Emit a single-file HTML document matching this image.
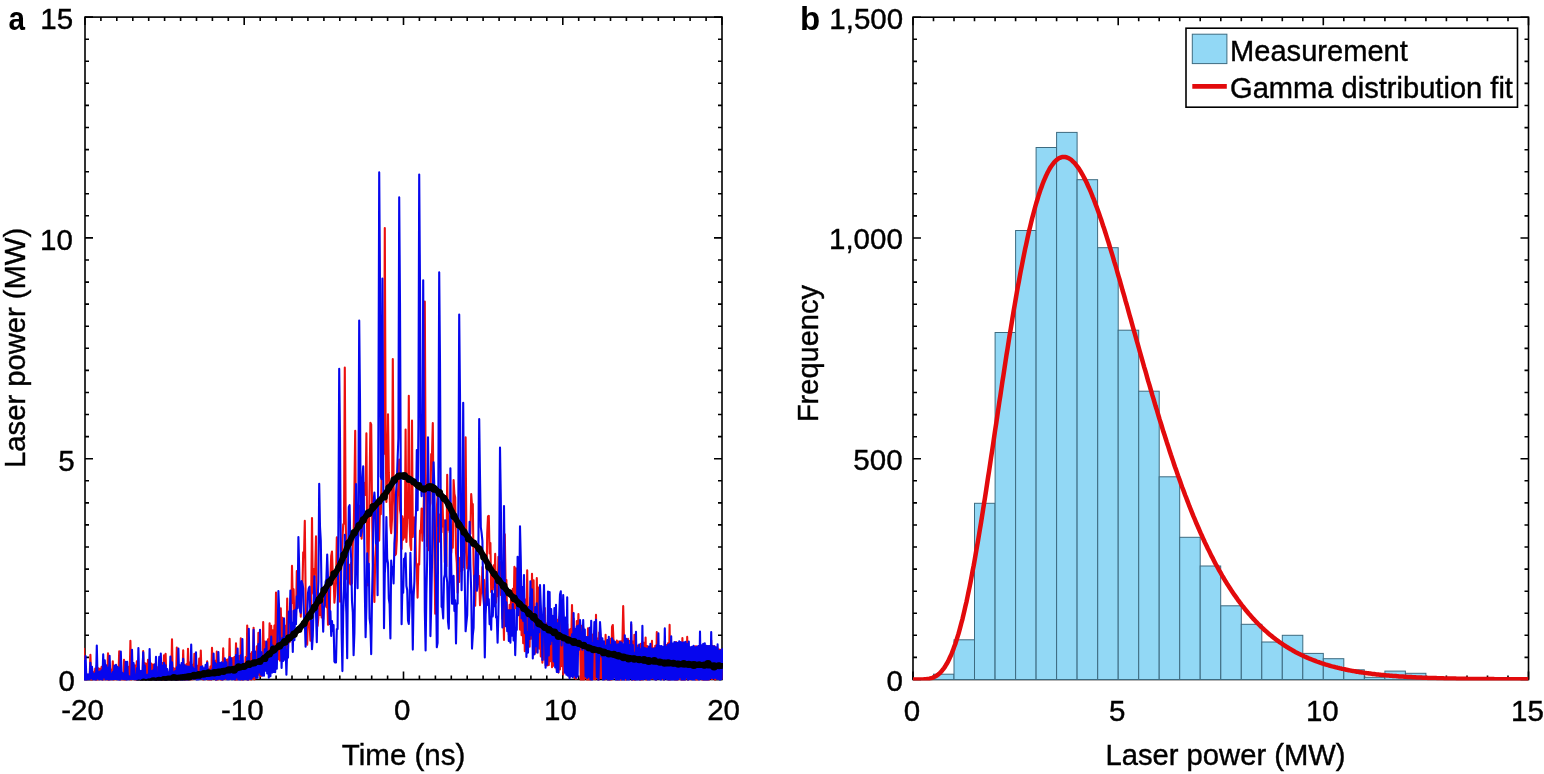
<!DOCTYPE html>
<html><head><meta charset="utf-8"><title>Figure</title>
<style>html,body{margin:0;padding:0;background:#fff;width:1544px;height:774px;overflow:hidden}</style>
</head><body>
<svg width="1544" height="774" viewBox="0 0 1544 774" style="display:block;font-family:'Liberation Sans',Arial,Helvetica,sans-serif">
<rect width="1544" height="774" fill="#fff"/>
<defs><clipPath id="ca"><rect x="84.0" y="17.1" width="639.0" height="663.4"/></clipPath><clipPath id="cb"><rect x="913.0" y="17.2" width="615.5" height="663.3"/></clipPath></defs>
<rect x="85.0" y="17.1" width="637.0" height="662.4" fill="none" stroke="#000" stroke-width="1.6"/>
<path d="M85.0,679.5v-8M85.0,17.1v8M100.9,679.5v-4M100.9,17.1v4M116.8,679.5v-4M116.8,17.1v4M132.8,679.5v-4M132.8,17.1v4M148.7,679.5v-4M148.7,17.1v4M164.6,679.5v-4M164.6,17.1v4M180.6,679.5v-4M180.6,17.1v4M196.5,679.5v-4M196.5,17.1v4M212.4,679.5v-4M212.4,17.1v4M228.3,679.5v-4M228.3,17.1v4M244.2,679.5v-8M244.2,17.1v8M260.2,679.5v-4M260.2,17.1v4M276.1,679.5v-4M276.1,17.1v4M292.0,679.5v-4M292.0,17.1v4M307.9,679.5v-4M307.9,17.1v4M323.9,679.5v-4M323.9,17.1v4M339.8,679.5v-4M339.8,17.1v4M355.7,679.5v-4M355.7,17.1v4M371.7,679.5v-4M371.7,17.1v4M387.6,679.5v-4M387.6,17.1v4M403.5,679.5v-8M403.5,17.1v8M419.4,679.5v-4M419.4,17.1v4M435.4,679.5v-4M435.4,17.1v4M451.3,679.5v-4M451.3,17.1v4M467.2,679.5v-4M467.2,17.1v4M483.1,679.5v-4M483.1,17.1v4M499.1,679.5v-4M499.1,17.1v4M515.0,679.5v-4M515.0,17.1v4M530.9,679.5v-4M530.9,17.1v4M546.8,679.5v-4M546.8,17.1v4M562.8,679.5v-8M562.8,17.1v8M578.7,679.5v-4M578.7,17.1v4M594.6,679.5v-4M594.6,17.1v4M610.5,679.5v-4M610.5,17.1v4M626.4,679.5v-4M626.4,17.1v4M642.4,679.5v-4M642.4,17.1v4M658.3,679.5v-4M658.3,17.1v4M674.2,679.5v-4M674.2,17.1v4M690.1,679.5v-4M690.1,17.1v4M706.1,679.5v-4M706.1,17.1v4M722.0,679.5v-8M722.0,17.1v8M85.0,679.5h8M722.0,679.5h-8M85.0,657.4h4M722.0,657.4h-4M85.0,635.3h4M722.0,635.3h-4M85.0,613.3h4M722.0,613.3h-4M85.0,591.2h4M722.0,591.2h-4M85.0,569.1h4M722.0,569.1h-4M85.0,547.0h4M722.0,547.0h-4M85.0,524.9h4M722.0,524.9h-4M85.0,502.9h4M722.0,502.9h-4M85.0,480.8h4M722.0,480.8h-4M85.0,458.7h8M722.0,458.7h-8M85.0,436.6h4M722.0,436.6h-4M85.0,414.5h4M722.0,414.5h-4M85.0,392.5h4M722.0,392.5h-4M85.0,370.4h4M722.0,370.4h-4M85.0,348.3h4M722.0,348.3h-4M85.0,326.2h4M722.0,326.2h-4M85.0,304.1h4M722.0,304.1h-4M85.0,282.1h4M722.0,282.1h-4M85.0,260.0h4M722.0,260.0h-4M85.0,237.9h8M722.0,237.9h-8M85.0,215.8h4M722.0,215.8h-4M85.0,193.7h4M722.0,193.7h-4M85.0,171.7h4M722.0,171.7h-4M85.0,149.6h4M722.0,149.6h-4M85.0,127.5h4M722.0,127.5h-4M85.0,105.4h4M722.0,105.4h-4M85.0,83.3h4M722.0,83.3h-4M85.0,61.3h4M722.0,61.3h-4M85.0,39.2h4M722.0,39.2h-4M85.0,17.1h8M722.0,17.1h-8" stroke="#000" stroke-width="1.6" fill="none"/>
<g clip-path="url(#ca)" fill="none" stroke-linejoin="round">
<polyline points="84.0,647.9 84.8,679.8 85.6,676.3 86.4,679.6 87.2,677.1 88.0,679.4 88.8,675.9 89.6,678.9 90.4,654.7 91.2,680.1 92.0,667.5 92.8,679.4 93.6,672.2 94.4,679.3 95.2,668.5 96.0,680.2 96.8,665.3 97.6,680.0 98.4,668.3 99.2,679.5 100.0,668.8 100.8,679.5 101.6,666.8 102.4,680.0 103.2,663.9 104.0,679.6 104.8,670.7 105.6,679.2 106.4,670.9 107.2,679.9 108.0,653.4 108.8,680.4 109.6,670.1 110.4,679.7 111.2,669.9 112.0,679.1 112.8,661.4 113.6,680.3 114.4,668.4 115.2,679.3 116.0,673.0 116.8,679.7 117.6,674.0 118.4,678.9 119.2,651.3 120.0,679.9 120.8,675.3 121.6,679.6 122.4,675.7 123.2,679.8 124.0,659.8 124.8,680.9 125.6,667.7 126.4,679.8 127.2,668.0 128.0,678.8 128.8,666.7 129.6,679.5 130.4,640.7 131.2,679.9 132.0,664.3 132.8,678.7 133.6,664.7 134.4,679.8 135.2,665.5 136.0,680.8 136.8,661.2 137.6,679.8 138.4,672.5 139.2,679.2 140.0,675.2 140.8,679.4 141.6,671.3 142.4,679.9 143.2,651.0 144.0,678.4 144.8,663.1 145.6,679.5 146.4,663.8 147.2,677.7 148.0,659.7 148.8,679.5 149.6,663.1 150.4,679.5 151.2,663.6 152.0,679.5 152.8,664.6 153.6,679.0 154.4,664.2 155.2,680.2 156.0,666.4 156.8,679.6 157.6,667.2 158.4,680.1 159.2,665.1 160.0,678.9 160.8,663.8 161.6,679.7 162.4,663.1 163.2,679.9 164.0,655.4 164.8,680.3 165.6,653.7 166.4,679.8 167.2,669.9 168.0,679.3 168.8,673.2 169.6,679.4 170.4,667.5 171.2,679.5 172.0,639.3 172.8,679.3 173.6,668.0 174.4,678.9 175.2,668.9 176.0,680.4 176.8,647.5 177.6,680.9 178.4,667.7 179.2,679.6 180.0,668.5 180.8,679.4 181.6,666.5 182.4,678.6 183.2,650.2 184.0,680.0 184.8,665.5 185.6,680.3 186.4,664.3 187.2,679.8 188.0,648.7 188.8,679.8 189.6,662.5 190.4,679.8 191.2,664.2 192.0,679.7 192.8,664.7 193.6,679.3 194.4,653.7 195.2,678.7 196.0,665.1 196.8,679.1 197.6,665.7 198.4,678.7 199.2,658.5 200.0,678.3 200.8,650.5 201.6,678.8 202.4,667.9 203.2,679.9 204.0,669.2 204.8,678.9 205.6,666.9 206.4,678.1 207.2,661.4 208.0,679.9 208.8,669.4 209.6,680.0 210.4,666.5 211.2,680.1 212.0,647.9 212.8,678.5 213.6,661.5 214.4,678.5 215.2,660.9 216.0,680.2 216.8,651.5 217.6,680.8 218.4,666.5 219.2,678.9 220.0,671.0 220.8,679.9 221.6,665.2 222.4,680.8 223.2,648.2 224.0,678.7 224.8,660.0 225.6,679.2 226.4,659.8 227.2,678.8 228.0,659.2 228.8,678.2 229.6,638.7 230.4,678.9 231.2,658.2 232.0,678.7 232.8,658.0 233.6,679.0 234.4,657.0 235.2,680.4 236.0,643.3 236.8,680.3 237.6,655.7 238.4,678.1 239.2,656.1 240.0,679.0 240.8,638.3 241.6,680.4 242.4,660.5 243.2,679.5 244.0,663.8 244.8,679.4 245.6,657.0 246.4,679.1 247.2,625.6 248.0,681.3 248.8,655.0 249.6,679.3 250.4,653.7 251.2,680.0 252.0,652.1 252.8,678.9 253.6,627.8 254.4,679.8 255.2,655.6 256.0,677.1 256.8,646.4 257.6,674.6 258.4,632.7 259.2,674.9 260.0,653.5 260.8,676.3 261.6,655.8 262.4,672.5 263.2,622.0 264.0,670.1 264.8,641.6 265.6,669.1 266.4,646.7 267.2,668.9 268.0,639.2 268.8,664.0 269.6,623.3 270.4,664.5 271.2,625.8 272.0,664.3 272.8,630.4 273.6,667.2 274.4,625.6 275.2,653.4 276.0,592.6 276.8,654.2 277.6,626.2 278.4,659.3 279.2,642.4 280.0,660.8 280.8,608.3 281.6,643.1 282.4,617.7 283.2,647.9 284.0,624.8 284.8,650.1 285.6,625.9 286.4,649.5 287.2,598.5 288.0,648.6 288.8,627.2 289.6,642.2 290.4,608.3 291.2,622.5 292.0,565.9 292.8,603.0 293.6,589.2 294.4,621.0 295.2,610.2 296.0,616.4 296.8,571.0 297.6,598.2 298.4,587.6 299.2,606.9 300.0,598.8 300.8,616.6 301.6,597.7 302.4,589.5 303.2,552.2 304.0,557.1 304.8,520.7 305.6,592.2 306.4,636.2 307.2,644.7 308.0,613.6 308.8,625.9 309.6,624.1 310.4,640.8 311.2,598.8 312.0,518.0 312.8,590.7 313.6,594.1 314.4,568.8 315.2,571.1 316.0,536.4 316.8,617.3 317.6,625.8 318.4,617.4 319.2,599.8 320.0,614.9 320.8,602.1 321.6,617.5 322.4,604.4 323.2,619.2 324.0,593.3 324.8,601.5 325.6,586.0 326.4,607.3 327.2,589.6 328.0,624.8 328.8,623.6 329.6,621.4 330.4,578.0 331.2,555.9 332.0,551.5 332.8,575.1 333.6,574.6 334.4,602.7 335.2,593.9 336.0,582.5 336.8,537.4 337.6,549.3 338.4,557.2 339.2,594.7 340.0,601.6 340.8,594.1 341.6,557.4 342.4,539.6 343.2,524.5 344.0,523.5 344.8,367.5 345.6,507.9 346.4,573.6 347.2,579.3 348.0,563.0 348.8,582.8 349.6,564.8 350.4,584.4 351.2,562.9 352.0,583.5 352.8,542.8 353.6,536.9 354.4,491.8 355.2,430.8 356.0,542.7 356.8,573.6 357.6,541.2 358.4,535.2 359.2,505.9 360.0,519.1 360.8,518.3 361.6,538.7 362.4,522.6 363.2,518.6 364.0,482.9 364.8,492.1 365.6,495.0 366.4,433.4 367.2,544.1 368.0,585.5 368.8,546.9 369.6,484.9 370.4,422.8 371.2,424.4 372.0,504.2 372.8,559.4 373.6,580.5 374.4,601.9 375.2,558.3 376.0,546.0 376.8,506.3 377.6,520.1 378.4,519.8 379.2,540.6 380.0,505.9 380.8,514.3 381.6,476.7 382.4,472.1 383.2,452.4 384.0,453.8 384.8,228.0 385.6,431.2 386.4,501.9 387.2,478.3 388.0,414.3 388.8,472.4 389.6,488.0 390.4,526.0 391.2,533.1 392.0,519.3 392.8,359.1 393.6,485.8 394.4,506.5 395.2,555.1 396.0,553.9 396.8,539.9 397.6,496.7 398.4,485.7 399.2,459.6 400.0,509.8 400.8,514.7 401.6,549.0 402.4,516.2 403.2,539.8 404.0,518.5 404.8,537.4 405.6,429.5 406.4,542.0 407.2,518.6 408.0,517.6 408.8,395.7 409.6,523.4 410.4,545.3 411.2,550.0 412.0,420.5 412.8,537.0 413.6,517.3 414.4,525.8 415.2,517.2 416.0,562.2 416.8,569.2 417.6,597.6 418.4,563.9 419.2,564.4 420.0,530.5 420.8,532.4 421.6,508.6 422.4,540.6 423.2,529.1 424.0,490.5 424.8,301.5 425.6,471.6 426.4,506.7 427.2,546.3 428.0,538.7 428.8,550.1 429.6,507.9 430.4,503.0 431.2,454.0 432.0,454.3 432.8,423.0 433.6,517.0 434.4,553.5 435.2,613.8 436.0,541.8 436.8,509.0 437.6,495.3 438.4,526.2 439.2,514.6 440.0,541.7 440.8,528.3 441.6,532.3 442.4,497.8 443.2,526.4 444.0,520.4 444.8,562.3 445.6,562.6 446.4,566.3 447.2,474.8 448.0,529.8 448.8,501.5 449.6,532.3 450.4,524.4 451.2,552.9 452.0,541.9 452.8,547.7 453.6,480.1 454.4,493.7 455.2,497.5 456.0,552.6 456.8,562.8 457.6,592.6 458.4,568.2 459.2,582.0 460.0,557.8 460.8,570.9 461.6,540.9 462.4,570.2 463.2,554.0 464.0,567.0 464.8,549.6 465.6,437.3 466.4,537.4 467.2,568.4 468.0,566.6 468.8,565.3 469.6,534.3 470.4,533.7 471.2,494.0 472.0,505.1 472.8,504.0 473.6,564.8 474.4,588.6 475.2,605.8 476.0,574.5 476.8,588.4 477.6,554.9 478.4,584.2 479.2,576.1 480.0,605.2 480.8,594.4 481.6,591.8 482.4,567.1 483.2,592.7 484.0,579.9 484.8,619.0 485.6,599.5 486.4,587.1 487.2,533.5 488.0,516.4 488.8,515.9 489.6,553.4 490.4,543.0 491.2,592.1 492.0,569.9 492.8,589.7 493.6,565.3 494.4,587.0 495.2,553.7 496.0,602.7 496.8,590.2 497.6,596.1 498.4,556.8 499.2,570.2 500.0,562.1 500.8,594.9 501.6,575.5 502.4,618.7 503.2,608.0 504.0,640.0 504.8,534.4 505.6,584.3 506.4,580.1 507.2,625.6 508.0,610.3 508.8,634.4 509.6,604.7 510.4,621.3 511.2,593.7 512.0,619.2 512.8,588.7 513.6,613.7 514.4,566.9 515.2,608.5 516.0,568.4 516.8,602.0 517.6,569.7 518.4,614.3 519.2,573.9 520.0,629.6 520.8,594.5 521.6,635.2 522.4,602.8 523.2,643.2 524.0,605.7 524.8,651.3 525.6,599.6 526.4,631.1 527.2,570.2 528.0,635.2 528.8,614.9 529.6,646.7 530.4,597.8 531.2,638.8 532.0,573.7 532.8,629.3 533.6,580.4 534.4,654.2 535.2,626.7 536.0,652.4 536.8,578.1 537.6,637.8 538.4,587.5 539.2,648.6 540.0,604.7 540.8,656.5 541.6,618.0 542.4,662.7 543.2,615.0 544.0,659.5 544.8,608.0 545.6,665.3 546.4,623.6 547.2,665.4 548.0,615.1 548.8,665.1 549.6,616.2 550.4,661.3 551.2,614.2 552.0,667.3 552.8,617.9 553.6,665.8 554.4,616.1 555.2,662.9 556.0,611.8 556.8,670.0 557.6,619.7 558.4,672.6 559.2,617.1 560.0,669.5 560.8,606.9 561.6,666.1 562.4,616.2 563.2,674.4 564.0,618.9 564.8,671.5 565.6,620.4 566.4,670.7 567.2,624.0 568.0,674.3 568.8,629.8 569.6,677.3 570.4,629.1 571.2,642.2 572.0,605.0 572.8,638.5 573.6,618.5 574.4,677.9 575.2,632.3 576.0,678.7 576.8,621.1 577.6,646.8 578.4,614.0 579.2,643.5 580.0,635.4 580.8,681.3 581.6,625.9 582.4,683.1 583.2,627.0 584.0,680.0 584.8,641.8 585.6,678.1 586.4,642.9 587.2,681.9 588.0,628.2 588.8,681.4 589.6,638.1 590.4,681.2 591.2,636.4 592.0,678.6 592.8,634.6 593.6,679.3 594.4,630.8 595.2,679.6 596.0,614.9 596.8,678.0 597.6,638.6 598.4,680.3 599.2,632.5 600.0,678.1 600.8,640.6 601.6,678.3 602.4,647.4 603.2,678.5 604.0,645.8 604.8,679.8 605.6,634.7 606.4,678.6 607.2,642.6 608.0,679.8 608.8,641.2 609.6,681.1 610.4,638.7 611.2,681.9 612.0,627.0 612.8,625.0 613.6,643.1 614.4,677.4 615.2,644.1 616.0,678.0 616.8,640.5 617.6,680.3 618.4,641.5 619.2,678.7 620.0,641.3 620.8,680.4 621.6,641.0 622.4,642.8 623.2,606.0 624.0,639.1 624.8,641.9 625.6,680.8 626.4,640.2 627.2,678.2 628.0,638.9 628.8,679.0 629.6,641.1 630.4,677.3 631.2,624.6 632.0,680.8 632.8,641.6 633.6,681.8 634.4,634.7 635.2,680.2 636.0,644.7 636.8,677.7 637.6,645.6 638.4,678.6 639.2,645.6 640.0,679.9 640.8,643.9 641.6,680.9 642.4,642.0 643.2,679.3 644.0,642.9 644.8,678.0 645.6,637.5 646.4,680.1 647.2,646.0 648.0,678.9 648.8,648.4 649.6,679.3 650.4,647.7 651.2,678.7 652.0,640.9 652.8,678.4 653.6,648.2 654.4,679.0 655.2,645.9 656.0,680.8 656.8,632.0 657.6,677.4 658.4,648.0 659.2,677.8 660.0,649.0 660.8,678.0 661.6,647.6 662.4,679.1 663.2,647.6 664.0,679.7 664.8,641.2 665.6,677.3 666.4,645.0 667.2,679.1 668.0,643.3 668.8,681.4 669.6,624.9 670.4,679.7 671.2,646.0 672.0,678.2 672.8,646.0 673.6,679.0 674.4,647.2 675.2,680.2 676.0,642.1 676.8,681.5 677.6,646.4 678.4,679.4 679.2,646.7 680.0,679.0 680.8,649.3 681.6,680.9 682.4,638.1 683.2,680.2 684.0,651.2 684.8,680.0 685.6,651.0 686.4,678.4 687.2,636.9 688.0,681.1 688.8,648.7 689.6,678.0 690.4,647.8 691.2,679.8 692.0,647.6 692.8,678.7 693.6,647.3 694.4,677.8 695.2,646.4 696.0,680.7 696.8,646.4 697.6,680.0 698.4,647.4 699.2,677.6 700.0,647.8 700.8,678.3 701.6,647.1 702.4,681.0 703.2,648.9 704.0,680.8 704.8,647.9 705.6,681.1 706.4,646.5 707.2,680.0 708.0,646.1 708.8,681.3 709.6,646.5 710.4,678.3 711.2,640.2 712.0,679.2 712.8,646.1 713.6,678.3 714.4,646.3 715.2,680.0 716.0,647.3 716.8,678.6 717.6,648.3 718.4,678.9 719.2,649.5 720.0,678.7 720.8,649.9 721.6,678.7 722.4,649.4" stroke="#ec1010" stroke-width="2.1"/>
<polyline points="84.0,660.0 84.8,680.6 85.6,656.1 86.4,680.1 87.2,674.3 88.0,679.4 88.8,674.4 89.6,679.5 90.4,662.9 91.2,678.3 92.0,666.9 92.8,679.4 93.6,673.7 94.4,679.8 95.2,673.2 96.0,679.9 96.8,645.5 97.6,678.5 98.4,672.1 99.2,679.6 100.0,671.5 100.8,679.2 101.6,670.3 102.4,679.9 103.2,654.4 104.0,677.4 104.8,660.3 105.6,679.7 106.4,665.2 107.2,678.9 108.0,667.8 108.8,680.2 109.6,655.8 110.4,679.4 111.2,673.8 112.0,679.7 112.8,672.0 113.6,679.1 114.4,665.5 115.2,679.0 116.0,664.9 116.8,679.2 117.6,666.7 118.4,680.1 119.2,668.4 120.0,680.4 120.8,651.5 121.6,678.8 122.4,672.8 123.2,679.2 124.0,673.6 124.8,679.3 125.6,661.9 126.4,679.9 127.2,661.7 128.0,679.7 128.8,676.0 129.6,679.4 130.4,676.6 131.2,679.0 132.0,649.9 132.8,679.0 133.6,663.1 134.4,679.4 135.2,674.8 136.0,679.5 136.8,668.3 137.6,681.0 138.4,648.0 139.2,679.3 140.0,670.8 140.8,679.2 141.6,671.1 142.4,679.7 143.2,652.3 144.0,677.9 144.8,665.6 145.6,679.3 146.4,675.0 147.2,679.3 148.0,674.6 148.8,679.9 149.6,649.0 150.4,678.9 151.2,671.1 152.0,679.2 152.8,670.5 153.6,679.4 154.4,664.8 155.2,680.1 156.0,656.7 156.8,679.6 157.6,674.0 158.4,679.6 159.2,656.7 160.0,680.9 160.8,653.5 161.6,679.4 162.4,665.7 163.2,678.8 164.0,662.9 164.8,680.1 165.6,665.2 166.4,680.7 167.2,669.0 168.0,679.1 168.8,672.4 169.6,679.0 170.4,656.5 171.2,679.8 172.0,662.2 172.8,679.1 173.6,672.3 174.4,679.8 175.2,671.0 176.0,679.9 176.8,667.2 177.6,680.9 178.4,648.5 179.2,678.8 180.0,665.2 180.8,680.1 181.6,663.1 182.4,680.0 183.2,658.8 184.0,679.9 184.8,665.2 185.6,679.6 186.4,666.2 187.2,680.2 188.0,666.5 188.8,679.5 189.6,666.8 190.4,678.6 191.2,644.6 192.0,678.8 192.8,667.4 193.6,678.9 194.4,669.1 195.2,678.5 196.0,652.2 196.8,680.2 197.6,671.9 198.4,679.8 199.2,673.4 200.0,679.1 200.8,666.9 201.6,678.3 202.4,666.2 203.2,679.1 204.0,668.3 204.8,679.6 205.6,664.7 206.4,678.7 207.2,662.7 208.0,679.3 208.8,670.9 209.6,679.3 210.4,671.6 211.2,679.5 212.0,669.6 212.8,678.9 213.6,653.6 214.4,678.1 215.2,662.7 216.0,680.2 216.8,664.2 217.6,679.2 218.4,652.0 219.2,678.6 220.0,663.0 220.8,679.0 221.6,662.2 222.4,680.2 223.2,663.2 224.0,678.9 224.8,658.2 225.6,678.2 226.4,662.4 227.2,679.7 228.0,669.9 228.8,679.6 229.6,657.1 230.4,678.7 231.2,658.4 232.0,679.6 232.8,670.5 233.6,679.3 234.4,670.5 235.2,679.6 236.0,655.1 236.8,677.5 237.6,648.5 238.4,679.6 239.2,661.5 240.0,680.7 240.8,655.2 241.6,679.3 242.4,639.1 243.2,681.0 244.0,669.0 244.8,678.9 245.6,665.5 246.4,679.4 247.2,657.9 248.0,681.3 248.8,628.8 249.6,678.6 250.4,666.2 251.2,679.0 252.0,663.4 252.8,677.4 253.6,629.8 254.4,675.9 255.2,651.5 256.0,678.0 256.8,661.5 257.6,677.7 258.4,644.1 259.2,672.5 260.0,629.7 260.8,674.6 261.6,652.3 262.4,675.6 263.2,662.1 264.0,675.7 264.8,649.3 265.6,670.8 266.4,641.6 267.2,673.5 268.0,656.8 268.8,677.8 269.6,659.0 270.4,676.2 271.2,636.5 272.0,672.6 272.8,645.5 273.6,671.9 274.4,649.4 275.2,672.3 276.0,649.9 276.8,668.6 277.6,635.2 278.4,591.0 279.2,610.5 280.0,644.1 280.8,639.7 281.6,668.0 282.4,638.1 283.2,661.0 284.0,618.4 284.8,659.6 285.6,646.1 286.4,674.8 287.2,649.8 288.0,657.6 288.8,611.6 289.6,622.4 290.4,590.6 291.2,633.9 292.0,622.8 292.8,652.0 293.6,610.9 294.4,640.1 295.2,609.7 296.0,624.2 296.8,596.4 297.6,608.2 298.4,537.0 299.2,568.4 300.0,610.8 300.8,612.8 301.6,581.1 302.4,583.7 303.2,588.1 304.0,617.8 304.8,621.3 305.6,646.8 306.4,615.1 307.2,617.5 308.0,592.9 308.8,588.3 309.6,586.7 310.4,619.9 311.2,620.4 312.0,649.2 312.8,635.9 313.6,605.7 314.4,576.2 315.2,605.1 316.0,612.2 316.8,642.2 317.6,601.5 318.4,581.6 319.2,483.8 320.0,526.9 320.8,540.8 321.6,595.9 322.4,608.5 323.2,631.8 324.0,606.5 324.8,605.9 325.6,582.0 326.4,579.1 327.2,554.5 328.0,578.7 328.8,589.4 329.6,624.0 330.4,611.3 331.2,635.9 332.0,621.1 332.8,631.0 333.6,625.0 334.4,661.5 335.2,662.5 336.0,662.5 336.8,629.0 337.6,628.9 338.4,524.1 339.2,368.8 340.0,437.2 340.8,555.2 341.6,632.7 342.4,671.1 343.2,612.7 344.0,588.6 344.8,534.8 345.6,592.0 346.4,614.5 347.2,658.3 348.0,569.3 348.8,507.0 349.6,505.2 350.4,545.3 351.2,558.9 352.0,601.2 352.8,612.5 353.6,655.3 354.4,633.0 355.2,575.3 356.0,484.1 356.8,548.9 357.6,588.2 358.4,500.1 359.2,320.6 360.0,399.6 360.8,535.9 361.6,531.1 362.4,479.5 363.2,466.4 364.0,512.5 364.8,590.6 365.6,637.3 366.4,606.7 367.2,553.2 368.0,581.9 368.8,563.7 369.6,618.5 370.4,625.0 371.2,654.1 372.0,599.1 372.8,563.2 373.6,501.7 374.4,492.5 375.2,504.2 376.0,543.6 376.8,541.8 377.6,595.2 378.4,425.9 379.2,172.4 380.0,284.0 380.8,476.7 381.6,479.1 382.4,278.6 383.2,459.0 384.0,628.3 384.8,573.4 385.6,561.1 386.4,517.1 387.2,558.7 388.0,563.3 388.8,598.5 389.6,604.0 390.4,638.4 391.2,560.6 392.0,572.9 392.8,567.4 393.6,583.5 394.4,543.4 395.2,532.3 396.0,492.8 396.8,482.2 397.6,459.2 398.4,438.3 399.2,197.2 400.0,303.3 400.8,486.6 401.6,624.2 402.4,586.9 403.2,592.8 404.0,558.8 404.8,561.0 405.6,553.2 406.4,586.0 407.2,590.0 408.0,620.5 408.8,623.9 409.6,605.3 410.4,552.7 411.2,584.0 412.0,594.3 412.8,649.6 413.6,596.4 414.4,581.4 415.2,529.3 416.0,512.1 416.8,450.0 417.6,510.3 418.4,427.0 419.2,174.5 420.0,285.6 420.8,477.5 421.6,496.3 422.4,479.9 423.2,280.3 424.0,459.9 424.8,610.8 425.6,650.4 426.4,592.2 427.2,558.4 428.0,437.3 428.8,499.3 429.6,483.7 430.4,636.1 431.2,606.9 432.0,564.1 432.8,488.5 433.6,462.3 434.4,489.0 435.2,554.6 436.0,582.0 436.8,647.3 437.6,642.8 438.4,475.9 439.2,272.3 440.0,361.9 440.8,516.6 441.6,606.8 442.4,607.9 443.2,618.4 444.0,578.3 444.8,574.8 445.6,520.3 446.4,575.8 447.2,582.1 448.0,621.6 448.8,628.6 449.6,573.9 450.4,468.3 451.2,563.3 452.0,603.6 452.8,603.7 453.6,575.9 454.4,611.0 455.2,600.3 456.0,643.4 456.8,603.4 457.6,603.7 458.4,497.0 459.2,314.5 460.0,394.8 460.8,533.5 461.6,590.3 462.4,541.1 463.2,402.7 464.0,527.3 464.8,582.4 465.6,631.3 466.4,623.0 467.2,615.2 468.0,572.2 468.8,565.5 469.6,521.8 470.4,566.7 471.2,590.5 472.0,648.6 472.8,635.2 473.6,628.0 474.4,575.6 475.2,577.4 476.0,549.4 476.8,590.8 477.6,586.2 478.4,549.2 479.2,419.0 480.0,476.3 480.8,527.1 481.6,532.8 482.4,540.8 483.2,594.9 484.0,604.6 484.8,657.4 485.6,614.2 486.4,599.0 487.2,567.0 488.0,605.1 488.8,599.2 489.6,624.1 490.4,617.8 491.2,629.8 492.0,590.9 492.8,616.4 493.6,594.3 494.4,606.2 495.2,580.5 496.0,617.4 496.8,616.6 497.6,642.8 498.4,613.7 499.2,563.5 500.0,447.6 500.8,498.6 501.6,586.7 502.4,627.5 503.2,592.8 504.0,506.0 504.8,584.1 505.6,626.3 506.4,602.2 507.2,631.3 508.0,610.2 508.8,641.0 509.6,610.4 510.4,642.6 511.2,610.4 512.0,635.6 512.8,604.1 513.6,640.5 514.4,610.1 515.2,655.1 516.0,628.1 516.8,629.9 517.6,556.8 518.4,615.2 519.2,600.2 520.0,526.2 520.8,559.9 521.6,618.2 522.4,587.1 523.2,620.9 524.0,575.0 524.8,633.2 525.6,609.4 526.4,656.9 527.2,632.0 528.0,652.6 528.8,607.1 529.6,639.0 530.4,581.2 531.2,635.2 532.0,589.2 532.8,658.4 533.6,630.8 534.4,654.3 535.2,607.0 536.0,646.2 536.8,603.2 537.6,652.6 538.4,619.4 539.2,632.2 540.0,585.0 540.8,605.8 541.6,624.8 542.4,659.9 543.2,618.0 544.0,585.0 544.8,627.5 545.6,667.8 546.4,626.0 547.2,664.5 548.0,591.6 548.8,655.5 549.6,592.1 550.4,644.2 551.2,609.0 552.0,640.7 552.8,616.1 553.6,661.4 554.4,608.1 555.2,667.5 556.0,604.8 556.8,671.9 557.6,623.2 558.4,672.3 559.2,616.4 560.0,594.5 560.8,591.2 561.6,645.5 562.4,624.5 563.2,595.0 564.0,622.8 564.8,672.7 565.6,617.5 566.4,674.8 567.2,597.2 568.0,675.8 568.8,637.4 569.6,678.2 570.4,637.5 571.2,676.3 572.0,634.2 572.8,677.3 573.6,613.1 574.4,675.6 575.2,628.9 576.0,677.6 576.8,626.3 577.6,676.5 578.4,625.5 579.2,649.8 580.0,620.0 580.8,633.1 581.6,638.4 582.4,649.8 583.2,620.0 584.0,646.8 584.8,629.6 585.6,676.5 586.4,637.1 587.2,678.0 588.0,637.1 588.8,676.8 589.6,627.8 590.4,679.5 591.2,620.8 592.0,682.0 592.8,643.1 593.6,650.8 594.4,622.0 595.2,647.9 596.0,619.8 596.8,676.9 597.6,641.1 598.4,680.4 599.2,649.5 600.0,622.0 600.8,634.6 601.6,656.5 602.4,638.4 603.2,681.3 604.0,641.3 604.8,679.3 605.6,645.9 606.4,678.3 607.2,640.1 608.0,681.0 608.8,636.8 609.6,680.5 610.4,644.7 611.2,679.0 612.0,638.3 612.8,679.3 613.6,640.5 614.4,677.4 615.2,642.1 616.0,681.5 616.8,644.6 617.6,679.8 618.4,644.2 619.2,680.1 620.0,642.0 620.8,678.2 621.6,642.5 622.4,680.8 623.2,644.2 624.0,680.4 624.8,635.3 625.6,677.9 626.4,638.7 627.2,680.9 628.0,640.6 628.8,680.9 629.6,645.1 630.4,678.0 631.2,622.2 632.0,681.5 632.8,645.1 633.6,679.1 634.4,652.9 635.2,681.0 636.0,631.7 636.8,681.8 637.6,647.7 638.4,679.7 639.2,644.6 640.0,680.8 640.8,649.4 641.6,679.2 642.4,625.8 643.2,679.7 644.0,647.8 644.8,678.6 645.6,648.3 646.4,678.8 647.2,648.7 648.0,680.1 648.8,646.6 649.6,680.4 650.4,643.7 651.2,678.3 652.0,648.6 652.8,677.6 653.6,648.9 654.4,679.4 655.2,648.1 656.0,681.4 656.8,645.3 657.6,678.6 658.4,633.4 659.2,678.9 660.0,646.0 660.8,680.4 661.6,646.1 662.4,678.0 663.2,647.1 664.0,681.2 664.8,628.4 665.6,678.5 666.4,646.6 667.2,679.7 668.0,644.9 668.8,680.3 669.6,644.1 670.4,681.3 671.2,636.2 672.0,680.2 672.8,643.5 673.6,680.1 674.4,642.1 675.2,681.5 676.0,642.5 676.8,681.7 677.6,642.8 678.4,679.2 679.2,641.4 680.0,677.3 680.8,642.1 681.6,681.5 682.4,642.7 683.2,681.0 684.0,642.2 684.8,681.6 685.6,641.8 686.4,677.6 687.2,644.0 688.0,681.0 688.8,641.6 689.6,679.3 690.4,647.2 691.2,679.2 692.0,646.8 692.8,680.4 693.6,645.8 694.4,681.4 695.2,647.2 696.0,677.9 696.8,647.1 697.6,678.8 698.4,646.1 699.2,681.3 700.0,631.5 700.8,678.8 701.6,645.3 702.4,679.4 703.2,643.9 704.0,680.4 704.8,643.3 705.6,682.2 706.4,645.8 707.2,681.0 708.0,646.0 708.8,679.7 709.6,646.0 710.4,678.2 711.2,632.1 712.0,677.8 712.8,646.4 713.6,678.4 714.4,646.2 715.2,677.8 716.0,647.5 716.8,678.7 717.6,644.4 718.4,678.9 719.2,650.8 720.0,680.3 720.8,650.3 721.6,678.9 722.4,648.2" stroke="#0606ee" stroke-width="2.1"/>
<polyline points="84.0,687.0 85.0,687.0 86.0,686.9 87.0,686.9 88.0,686.9 89.0,686.8 90.0,686.8 91.0,686.8 92.0,686.7 93.0,686.7 94.0,686.7 95.0,686.6 96.0,686.6 97.0,686.6 98.0,686.5 99.0,686.5 100.0,686.5 101.0,686.4 102.0,686.4 103.0,686.4 104.0,686.3 105.0,686.3 106.0,686.3 107.0,686.2 108.0,686.2 109.0,686.2 110.0,686.2 111.0,686.1 112.0,686.1 113.0,686.1 114.0,686.0 115.0,686.0 116.0,686.0 117.0,685.9 118.0,685.9 119.0,685.9 120.0,685.8 121.0,685.8 122.0,685.8 123.0,685.7 124.0,685.7 125.0,685.7 126.0,685.6 127.0,685.6 128.0,685.6 129.0,685.5 130.0,685.4 131.0,685.3 132.0,685.1 133.0,684.9 134.0,684.7 135.0,684.5 136.0,684.3 137.0,684.1 138.0,683.9 139.0,683.7 140.0,683.5 141.0,683.3 142.0,683.1 143.0,682.9 144.0,682.7 145.0,682.5 146.0,682.3 147.0,682.1 148.0,681.9 149.0,681.7 150.0,681.5 151.0,681.4 152.0,681.2 153.0,681.1 154.0,681.0 155.0,680.8 156.0,680.7 157.0,680.5 158.0,680.4 159.0,680.3 160.0,680.1 161.0,680.0 162.0,679.9 163.0,679.7 164.0,679.6 165.0,679.5 166.0,679.3 167.0,679.2 168.0,679.0 169.0,678.9 170.0,678.8 171.0,678.6 172.0,678.5 173.0,678.4 174.0,678.2 175.0,678.1 176.0,678.0 177.0,677.8 178.0,677.7 179.0,677.6 180.0,677.4 181.0,677.3 182.0,677.2 183.0,677.1 184.0,676.9 185.0,676.8 186.0,676.7 187.0,676.5 188.0,676.4 189.0,676.3 190.0,676.1 191.0,676.0 192.0,675.9 193.0,675.8 194.0,675.6 195.0,675.5 196.0,675.4 197.0,675.2 198.0,675.1 199.0,675.0 200.0,674.9 201.0,674.7 202.0,674.6 203.0,674.5 204.0,674.3 205.0,674.2 206.0,674.1 207.0,673.9 208.0,673.8 209.0,673.7 210.0,673.6 211.0,673.4 212.0,673.3 213.0,673.1 214.0,672.9 215.0,672.7 216.0,672.5 217.0,672.3 218.0,672.1 219.0,671.9 220.0,671.7 221.0,671.5 222.0,671.3 223.0,671.1 224.0,670.9 225.0,670.7 226.0,670.5 227.0,670.3 228.0,670.1 229.0,669.9 230.0,669.7 231.0,669.5 232.0,669.3 233.0,669.1 234.0,668.9 235.0,668.7 236.0,668.5 237.0,668.3 238.0,668.1 239.0,667.9 240.0,667.6 241.0,667.3 242.0,667.0 243.0,666.6 244.0,666.3 245.0,666.0 246.0,665.6 247.0,665.3 248.0,665.0 249.0,664.6 250.0,664.3 251.0,664.0 252.0,663.7 253.0,663.3 254.0,663.0 255.0,662.7 256.0,662.3 257.0,662.0 258.0,661.7 259.0,661.3 260.0,660.9 261.0,660.3 262.0,659.7 263.0,659.0 264.0,658.2 265.0,657.4 266.0,656.5 267.0,655.7 268.0,654.9 269.0,654.1 270.0,653.3 271.0,652.5 272.0,651.7 273.0,650.9 274.0,650.0 275.0,649.3 276.0,648.5 277.0,647.7 278.0,647.0 279.0,646.2 280.0,645.5 281.0,644.7 282.0,644.0 283.0,643.2 284.0,642.5 285.0,641.7 286.0,641.0 287.0,640.2 288.0,639.5 289.0,638.7 290.0,637.8 291.0,636.9 292.0,636.0 293.0,635.0 294.0,634.0 295.0,633.0 296.0,632.0 297.0,630.9 298.0,629.9 299.0,628.9 300.0,627.9 301.0,626.9 302.0,625.7 303.0,624.5 304.0,623.1 305.0,621.7 306.0,620.2 307.0,618.7 308.0,617.2 309.0,615.7 310.0,614.2 311.0,612.7 312.0,611.2 313.0,609.7 314.0,608.1 315.0,606.4 316.0,604.7 317.0,603.0 318.0,601.3 319.0,599.6 320.0,597.8 321.0,596.1 322.0,594.4 323.0,592.7 324.0,591.0 325.0,589.3 326.0,587.6 327.0,586.0 328.0,584.4 329.0,582.8 330.0,581.2 331.0,579.7 332.0,578.1 333.0,576.5 334.0,575.0 335.0,573.4 336.0,571.8 337.0,570.3 338.0,568.5 339.0,566.6 340.0,564.5 341.0,562.3 342.0,559.9 343.0,557.5 344.0,555.1 345.0,552.7 346.0,550.3 347.0,547.9 348.0,545.5 349.0,543.1 350.0,540.8 351.0,538.7 352.0,536.7 353.0,535.0 354.0,533.4 355.0,531.9 356.0,530.5 357.0,529.0 358.0,527.6 359.0,526.1 360.0,524.7 361.0,523.2 362.0,521.7 363.0,520.3 364.0,518.8 365.0,517.5 366.0,516.2 367.0,514.9 368.0,513.7 369.0,512.6 370.0,511.5 371.0,510.4 372.0,509.3 373.0,508.2 374.0,507.1 375.0,505.9 376.0,504.8 377.0,503.7 378.0,502.5 379.0,501.4 380.0,500.3 381.0,499.1 382.0,498.0 383.0,496.8 384.0,495.6 385.0,494.3 386.0,492.9 387.0,491.4 388.0,489.8 389.0,488.2 390.0,486.7 391.0,485.1 392.0,483.5 393.0,482.0 394.0,480.6 395.0,479.3 396.0,478.2 397.0,477.2 398.0,476.3 399.0,475.8 400.0,475.5 401.0,475.5 402.0,475.7 403.0,476.1 404.0,476.4 405.0,476.8 406.0,477.1 407.0,477.5 408.0,477.9 409.0,478.4 410.0,479.0 411.0,479.7 412.0,480.5 413.0,481.5 414.0,482.4 415.0,483.3 416.0,484.2 417.0,485.1 418.0,486.1 419.0,486.9 420.0,487.5 421.0,488.0 422.0,488.4 423.0,488.6 424.0,488.6 425.0,488.5 426.0,488.2 427.0,487.8 428.0,487.3 429.0,486.8 430.0,486.4 431.0,486.3 432.0,486.5 433.0,487.0 434.0,487.8 435.0,488.7 436.0,489.7 437.0,490.6 438.0,491.6 439.0,492.7 440.0,493.8 441.0,494.9 442.0,496.0 443.0,497.2 444.0,498.3 445.0,499.5 446.0,500.8 447.0,502.2 448.0,503.8 449.0,505.6 450.0,507.6 451.0,509.6 452.0,511.5 453.0,513.5 454.0,515.5 455.0,517.4 456.0,519.3 457.0,521.0 458.0,522.6 459.0,524.2 460.0,525.7 461.0,527.2 462.0,528.7 463.0,530.2 464.0,531.7 465.0,533.2 466.0,534.6 467.0,535.9 468.0,537.2 469.0,538.3 470.0,539.4 471.0,540.5 472.0,541.5 473.0,542.5 474.0,543.5 475.0,544.5 476.0,545.5 477.0,546.5 478.0,547.6 479.0,548.8 480.0,550.2 481.0,551.7 482.0,553.4 483.0,555.2 484.0,557.0 485.0,558.8 486.0,560.6 487.0,562.4 488.0,564.2 489.0,566.0 490.0,567.8 491.0,569.5 492.0,571.0 493.0,572.5 494.0,573.9 495.0,575.2 496.0,576.5 497.0,577.8 498.0,579.0 499.0,580.3 500.0,581.6 501.0,582.9 502.0,584.2 503.0,585.5 504.0,586.7 505.0,588.0 506.0,589.3 507.0,590.6 508.0,591.8 509.0,593.0 510.0,594.1 511.0,595.2 512.0,596.2 513.0,597.2 514.0,598.2 515.0,599.2 516.0,600.2 517.0,601.2 518.0,602.2 519.0,603.2 520.0,604.2 521.0,605.2 522.0,606.2 523.0,607.2 524.0,608.2 525.0,609.2 526.0,610.2 527.0,611.2 528.0,612.2 529.0,613.2 530.0,614.2 531.0,615.2 532.0,616.2 533.0,617.2 534.0,618.2 535.0,619.2 536.0,620.2 537.0,621.2 538.0,622.2 539.0,623.2 540.0,624.1 541.0,624.9 542.0,625.7 543.0,626.3 544.0,626.9 545.0,627.4 546.0,628.0 547.0,628.5 548.0,629.1 549.0,629.7 550.0,630.2 551.0,630.8 552.0,631.3 553.0,631.9 554.0,632.4 555.0,633.0 556.0,633.5 557.0,634.1 558.0,634.7 559.0,635.2 560.0,635.8 561.0,636.3 562.0,636.9 563.0,637.4 564.0,637.8 565.0,638.3 566.0,638.7 567.0,639.1 568.0,639.5 569.0,639.9 570.0,640.3 571.0,640.7 572.0,641.1 573.0,641.5 574.0,641.9 575.0,642.3 576.0,642.7 577.0,643.1 578.0,643.5 579.0,643.9 580.0,644.3 581.0,644.7 582.0,645.1 583.0,645.5 584.0,645.9 585.0,646.3 586.0,646.7 587.0,647.0 588.0,647.4 589.0,647.7 590.0,648.0 591.0,648.3 592.0,648.6 593.0,648.9 594.0,649.2 595.0,649.5 596.0,649.7 597.0,650.0 598.0,650.3 599.0,650.6 600.0,650.9 601.0,651.2 602.0,651.5 603.0,651.8 604.0,652.1 605.0,652.4 606.0,652.7 607.0,653.0 608.0,653.2 609.0,653.5 610.0,653.8 611.0,654.1 612.0,654.4 613.0,654.7 614.0,655.0 615.0,655.3 616.0,655.6 617.0,655.8 618.0,656.0 619.0,656.2 620.0,656.4 621.0,656.5 622.0,656.7 623.0,656.9 624.0,657.0 625.0,657.2 626.0,657.4 627.0,657.5 628.0,657.7 629.0,657.9 630.0,658.0 631.0,658.2 632.0,658.4 633.0,658.5 634.0,658.7 635.0,658.9 636.0,659.0 637.0,659.2 638.0,659.4 639.0,659.5 640.0,659.7 641.0,659.9 642.0,660.0 643.0,660.2 644.0,660.4 645.0,660.5 646.0,660.7 647.0,660.8 648.0,660.9 649.0,661.0 650.0,661.1 651.0,661.2 652.0,661.3 653.0,661.4 654.0,661.5 655.0,661.6 656.0,661.7 657.0,661.8 658.0,661.9 659.0,662.0 660.0,662.1 661.0,662.2 662.0,662.3 663.0,662.4 664.0,662.5 665.0,662.6 666.0,662.7 667.0,662.8 668.0,662.9 669.0,663.0 670.0,663.1 671.0,663.2 672.0,663.3 673.0,663.4 674.0,663.5 675.0,663.6 676.0,663.7 677.0,663.8 678.0,663.9 679.0,664.0 680.0,664.1 681.0,664.2 682.0,664.2 683.0,664.3 684.0,664.3 685.0,664.4 686.0,664.4 687.0,664.5 688.0,664.5 689.0,664.5 690.0,664.6 691.0,664.6 692.0,664.7 693.0,664.7 694.0,664.8 695.0,664.8 696.0,664.8 697.0,664.9 698.0,664.9 699.0,665.0 700.0,665.0 701.0,665.1 702.0,665.1 703.0,665.1 704.0,665.2 705.0,665.2 706.0,665.3 707.0,665.3 708.0,665.4 709.0,665.4 710.0,665.4 711.0,665.5 712.0,665.5 713.0,665.6 714.0,665.6 715.0,665.7 716.0,665.7 717.0,665.7 718.0,665.8 719.0,665.8 720.0,665.9 721.0,665.9 722.0,665.9 723.0,666.0" stroke="#000" stroke-width="6.0"/>
<g fill="#000" stroke="none"><circle cx="83.7" cy="686.2" r="3.7"/><circle cx="89.2" cy="687.5" r="3.6"/><circle cx="93.8" cy="686.2" r="3.4"/><circle cx="99.7" cy="686.7" r="3.5"/><circle cx="103.6" cy="687.3" r="3.9"/><circle cx="108.3" cy="686.1" r="3.7"/><circle cx="113.7" cy="685.7" r="3.7"/><circle cx="119.2" cy="685.8" r="3.4"/><circle cx="124.2" cy="686.2" r="3.5"/><circle cx="128.9" cy="684.9" r="3.4"/><circle cx="133.5" cy="684.7" r="3.7"/><circle cx="138.9" cy="683.1" r="3.6"/><circle cx="143.6" cy="681.9" r="3.5"/><circle cx="148.6" cy="682.4" r="3.9"/><circle cx="153.2" cy="681.1" r="3.9"/><circle cx="159.0" cy="680.3" r="3.5"/><circle cx="163.9" cy="679.4" r="3.5"/><circle cx="168.5" cy="679.4" r="4.0"/><circle cx="173.9" cy="677.7" r="3.7"/><circle cx="179.2" cy="679.0" r="3.8"/><circle cx="184.3" cy="677.4" r="3.5"/><circle cx="189.0" cy="677.1" r="3.8"/><circle cx="194.1" cy="675.6" r="3.9"/><circle cx="198.9" cy="674.9" r="3.9"/><circle cx="204.0" cy="673.8" r="3.8"/><circle cx="208.5" cy="673.0" r="3.8"/><circle cx="214.4" cy="672.7" r="3.8"/><circle cx="218.5" cy="672.2" r="3.7"/><circle cx="223.5" cy="671.3" r="3.6"/><circle cx="228.9" cy="669.9" r="3.7"/><circle cx="234.0" cy="669.7" r="4.0"/><circle cx="238.5" cy="666.8" r="3.5"/><circle cx="243.9" cy="666.5" r="3.6"/><circle cx="248.8" cy="664.2" r="3.9"/><circle cx="254.1" cy="662.8" r="3.6"/><circle cx="259.8" cy="661.6" r="3.5"/><circle cx="264.7" cy="658.4" r="3.7"/><circle cx="269.4" cy="654.1" r="3.5"/><circle cx="273.7" cy="649.5" r="3.9"/><circle cx="279.4" cy="646.0" r="3.8"/><circle cx="284.8" cy="641.8" r="3.9"/><circle cx="288.9" cy="638.1" r="3.8"/><circle cx="294.0" cy="634.2" r="3.8"/><circle cx="299.0" cy="629.4" r="3.5"/><circle cx="304.3" cy="623.4" r="3.4"/><circle cx="309.7" cy="616.1" r="3.9"/><circle cx="314.3" cy="607.5" r="3.7"/><circle cx="319.3" cy="599.9" r="4.0"/><circle cx="324.0" cy="590.1" r="3.6"/><circle cx="329.4" cy="582.2" r="3.9"/><circle cx="334.0" cy="573.9" r="3.7"/><circle cx="338.8" cy="567.6" r="3.4"/><circle cx="343.9" cy="554.9" r="3.7"/><circle cx="348.6" cy="543.3" r="3.7"/><circle cx="354.2" cy="532.8" r="3.8"/><circle cx="359.0" cy="525.7" r="3.7"/><circle cx="363.3" cy="520.0" r="3.7"/><circle cx="368.6" cy="513.2" r="4.0"/><circle cx="373.0" cy="506.7" r="3.6"/><circle cx="379.3" cy="501.3" r="3.4"/><circle cx="384.0" cy="496.7" r="3.9"/><circle cx="388.8" cy="487.7" r="3.5"/><circle cx="394.2" cy="480.0" r="3.8"/><circle cx="399.0" cy="476.1" r="3.7"/><circle cx="404.2" cy="475.9" r="4.0"/><circle cx="409.1" cy="479.5" r="3.6"/><circle cx="413.5" cy="481.7" r="3.5"/><circle cx="418.8" cy="485.6" r="3.5"/><circle cx="424.0" cy="489.3" r="3.5"/><circle cx="429.3" cy="487.2" r="4.0"/><circle cx="433.9" cy="488.9" r="3.8"/><circle cx="439.3" cy="492.9" r="3.9"/><circle cx="443.9" cy="498.3" r="3.6"/><circle cx="449.0" cy="505.6" r="3.5"/><circle cx="453.9" cy="516.3" r="3.7"/><circle cx="458.9" cy="524.9" r="3.6"/><circle cx="464.0" cy="532.2" r="3.6"/><circle cx="468.5" cy="539.0" r="3.6"/><circle cx="473.6" cy="543.3" r="3.7"/><circle cx="479.3" cy="549.1" r="3.5"/><circle cx="483.7" cy="557.0" r="3.6"/><circle cx="488.6" cy="566.8" r="3.6"/><circle cx="494.3" cy="573.8" r="3.4"/><circle cx="498.7" cy="580.7" r="3.6"/><circle cx="503.6" cy="585.8" r="3.9"/><circle cx="508.9" cy="592.8" r="3.7"/><circle cx="514.1" cy="598.4" r="3.8"/><circle cx="519.4" cy="604.0" r="3.6"/><circle cx="523.9" cy="608.2" r="3.8"/><circle cx="528.9" cy="613.5" r="3.7"/><circle cx="533.7" cy="617.1" r="4.0"/><circle cx="539.0" cy="623.6" r="3.8"/><circle cx="544.7" cy="627.3" r="3.6"/><circle cx="548.9" cy="629.7" r="3.7"/><circle cx="554.3" cy="632.3" r="3.9"/><circle cx="558.6" cy="636.0" r="3.9"/><circle cx="564.0" cy="637.9" r="3.5"/><circle cx="568.4" cy="640.2" r="3.6"/><circle cx="573.9" cy="641.9" r="4.0"/><circle cx="578.6" cy="643.3" r="3.5"/><circle cx="583.7" cy="645.3" r="3.6"/><circle cx="589.1" cy="648.1" r="3.5"/><circle cx="593.4" cy="649.8" r="3.5"/><circle cx="599.5" cy="650.6" r="3.4"/><circle cx="603.7" cy="652.4" r="3.9"/><circle cx="608.9" cy="654.1" r="3.5"/><circle cx="613.9" cy="654.3" r="3.5"/><circle cx="618.4" cy="655.8" r="3.7"/><circle cx="623.5" cy="657.4" r="3.8"/><circle cx="628.5" cy="659.1" r="3.5"/><circle cx="634.2" cy="659.0" r="3.7"/><circle cx="639.2" cy="659.6" r="3.6"/><circle cx="644.0" cy="659.9" r="3.8"/><circle cx="648.7" cy="661.0" r="3.9"/><circle cx="654.3" cy="660.7" r="3.8"/><circle cx="659.7" cy="662.1" r="3.6"/><circle cx="664.5" cy="663.3" r="3.5"/><circle cx="668.4" cy="662.9" r="3.7"/><circle cx="673.4" cy="663.2" r="3.5"/><circle cx="678.3" cy="664.1" r="3.6"/><circle cx="683.7" cy="663.8" r="3.7"/><circle cx="688.8" cy="664.3" r="3.6"/><circle cx="693.8" cy="665.0" r="4.0"/><circle cx="699.1" cy="664.6" r="3.4"/><circle cx="704.2" cy="665.1" r="3.6"/><circle cx="708.0" cy="663.8" r="3.9"/><circle cx="714.1" cy="666.5" r="3.9"/><circle cx="719.1" cy="665.8" r="3.5"/></g>
</g>
<g font-size="29.5px" fill="#000" stroke="#000" stroke-width="0.4">
<text x="82.6" y="720.3" text-anchor="middle">-20</text>
<text x="242.3" y="720.3" text-anchor="middle">-10</text>
<text x="402.3" y="720.3" text-anchor="middle">0</text>
<text x="560.5" y="720.3" text-anchor="middle">10</text>
<text x="723.6" y="720.3" text-anchor="middle">20</text>
<text x="74.9" y="691.2" text-anchor="end">0</text>
<text x="74.6" y="471.1" text-anchor="end">5</text>
<text x="72.8" y="249.8" text-anchor="end">10</text>
<text x="73.1" y="29.4" text-anchor="end">15</text>
<text x="403.6" y="765.2" text-anchor="middle">Time (ns)</text>
<text transform="translate(25.3,347.9) rotate(-90)" text-anchor="middle" font-size="29.2px">Laser power (MW)</text>
</g>
<text transform="translate(8.6,30.1) scale(0.9,1.03)" font-size="33px" font-weight="bold">a</text>
<text x="800" y="29.7" font-size="33px" font-weight="bold">b</text>
<rect x="913.0" y="17.2" width="615.5" height="662.3" fill="none" stroke="#000" stroke-width="1.6"/>
<path d="M913.0,679.5v-8M913.0,17.2v8M933.5,679.5v-4M933.5,17.2v4M954.0,679.5v-4M954.0,17.2v4M974.5,679.5v-4M974.5,17.2v4M995.1,679.5v-4M995.1,17.2v4M1015.6,679.5v-4M1015.6,17.2v4M1036.1,679.5v-4M1036.1,17.2v4M1056.6,679.5v-4M1056.6,17.2v4M1077.1,679.5v-4M1077.1,17.2v4M1097.7,679.5v-4M1097.7,17.2v4M1118.2,679.5v-8M1118.2,17.2v8M1138.7,679.5v-4M1138.7,17.2v4M1159.2,679.5v-4M1159.2,17.2v4M1179.7,679.5v-4M1179.7,17.2v4M1200.2,679.5v-4M1200.2,17.2v4M1220.8,679.5v-4M1220.8,17.2v4M1241.3,679.5v-4M1241.3,17.2v4M1261.8,679.5v-4M1261.8,17.2v4M1282.3,679.5v-4M1282.3,17.2v4M1302.8,679.5v-4M1302.8,17.2v4M1323.3,679.5v-8M1323.3,17.2v8M1343.8,679.5v-4M1343.8,17.2v4M1364.4,679.5v-4M1364.4,17.2v4M1384.9,679.5v-4M1384.9,17.2v4M1405.4,679.5v-4M1405.4,17.2v4M1425.9,679.5v-4M1425.9,17.2v4M1446.4,679.5v-4M1446.4,17.2v4M1467.0,679.5v-4M1467.0,17.2v4M1487.5,679.5v-4M1487.5,17.2v4M1508.0,679.5v-4M1508.0,17.2v4M1528.5,679.5v-8M1528.5,17.2v8M913.0,679.5h8M1528.5,679.5h-8M913.0,657.4h4M1528.5,657.4h-4M913.0,635.3h4M1528.5,635.3h-4M913.0,613.3h4M1528.5,613.3h-4M913.0,591.2h4M1528.5,591.2h-4M913.0,569.1h4M1528.5,569.1h-4M913.0,547.0h4M1528.5,547.0h-4M913.0,525.0h4M1528.5,525.0h-4M913.0,502.9h4M1528.5,502.9h-4M913.0,480.8h4M1528.5,480.8h-4M913.0,458.7h8M1528.5,458.7h-8M913.0,436.7h4M1528.5,436.7h-4M913.0,414.6h4M1528.5,414.6h-4M913.0,392.5h4M1528.5,392.5h-4M913.0,370.4h4M1528.5,370.4h-4M913.0,348.4h4M1528.5,348.4h-4M913.0,326.3h4M1528.5,326.3h-4M913.0,304.2h4M1528.5,304.2h-4M913.0,282.1h4M1528.5,282.1h-4M913.0,260.0h4M1528.5,260.0h-4M913.0,238.0h8M1528.5,238.0h-8M913.0,215.9h4M1528.5,215.9h-4M913.0,193.8h4M1528.5,193.8h-4M913.0,171.7h4M1528.5,171.7h-4M913.0,149.7h4M1528.5,149.7h-4M913.0,127.6h4M1528.5,127.6h-4M913.0,105.5h4M1528.5,105.5h-4M913.0,83.4h4M1528.5,83.4h-4M913.0,61.4h4M1528.5,61.4h-4M913.0,39.3h4M1528.5,39.3h-4M913.0,17.2h8M1528.5,17.2h-8" stroke="#000" stroke-width="1.6" fill="none"/>
<g clip-path="url(#cb)">
<g fill="#92d8f5" stroke="#3d6b80" stroke-width="1">
<rect x="933.5" y="674.2" width="20.5" height="5.3"/>
<rect x="954.0" y="639.8" width="20.5" height="39.7"/>
<rect x="974.5" y="503.3" width="20.5" height="176.2"/>
<rect x="995.1" y="332.5" width="20.5" height="347.0"/>
<rect x="1015.6" y="230.5" width="20.5" height="449.0"/>
<rect x="1036.1" y="147.5" width="20.5" height="532.0"/>
<rect x="1056.6" y="132.4" width="20.5" height="547.1"/>
<rect x="1077.1" y="179.7" width="20.5" height="499.8"/>
<rect x="1097.7" y="247.7" width="20.5" height="431.8"/>
<rect x="1118.2" y="330.2" width="20.5" height="349.3"/>
<rect x="1138.7" y="391.2" width="20.5" height="288.3"/>
<rect x="1159.2" y="476.8" width="20.5" height="202.7"/>
<rect x="1179.7" y="537.3" width="20.5" height="142.2"/>
<rect x="1200.2" y="566.0" width="20.5" height="113.5"/>
<rect x="1220.8" y="605.8" width="20.5" height="73.7"/>
<rect x="1241.3" y="624.3" width="20.5" height="55.2"/>
<rect x="1261.8" y="642.0" width="20.5" height="37.5"/>
<rect x="1282.3" y="635.3" width="20.5" height="44.2"/>
<rect x="1302.8" y="653.4" width="20.5" height="26.1"/>
<rect x="1323.3" y="658.7" width="20.5" height="20.8"/>
<rect x="1343.8" y="669.8" width="20.5" height="9.7"/>
<rect x="1364.4" y="677.3" width="20.5" height="2.2"/>
<rect x="1384.9" y="671.1" width="20.5" height="8.4"/>
<rect x="1405.4" y="673.3" width="20.5" height="6.2"/>
</g>
<polyline points="913.0,679.5 913.0,679.5 914.1,679.5 915.1,679.5 916.1,679.5 917.2,679.5 918.2,679.5 919.2,679.5 920.2,679.5 921.3,679.5 922.3,679.4 923.3,679.4 924.3,679.3 925.4,679.3 926.4,679.2 927.4,679.0 928.5,678.9 929.5,678.7 930.5,678.4 931.5,678.1 932.6,677.8 933.6,677.3 934.6,676.8 935.6,676.3 936.7,675.6 937.7,674.9 938.7,674.1 939.8,673.1 940.8,672.1 941.8,671.0 942.8,669.7 943.9,668.3 944.9,666.9 945.9,665.2 946.9,663.5 948.0,661.6 949.0,659.5 950.0,657.3 951.1,655.0 952.1,652.5 953.1,649.9 954.1,647.1 955.2,644.2 956.2,641.1 957.2,637.8 958.3,634.4 959.3,630.9 960.3,627.2 961.3,623.3 962.4,619.3 963.4,615.1 964.4,610.8 965.4,606.3 966.5,601.7 967.5,596.9 968.5,592.0 969.6,586.9 970.6,581.8 971.6,576.4 972.6,571.0 973.7,565.5 974.7,559.8 975.7,554.0 976.7,548.1 977.8,542.1 978.8,536.0 979.8,529.8 980.9,523.5 981.9,517.2 982.9,510.8 983.9,504.3 985.0,497.7 986.0,491.1 987.0,484.4 988.0,477.6 989.1,470.9 990.1,464.1 991.1,457.2 992.2,450.4 993.2,443.5 994.2,436.6 995.2,429.7 996.3,422.8 997.3,415.9 998.3,409.0 999.3,402.1 1000.4,395.3 1001.4,388.5 1002.4,381.7 1003.5,374.9 1004.5,368.2 1005.5,361.5 1006.5,354.9 1007.6,348.4 1008.6,341.9 1009.6,335.4 1010.7,329.1 1011.7,322.8 1012.7,316.6 1013.7,310.5 1014.8,304.4 1015.8,298.5 1016.8,292.6 1017.8,286.9 1018.9,281.2 1019.9,275.7 1020.9,270.2 1022.0,264.9 1023.0,259.7 1024.0,254.6 1025.0,249.6 1026.1,244.7 1027.1,240.0 1028.1,235.3 1029.1,230.8 1030.2,226.5 1031.2,222.2 1032.2,218.1 1033.3,214.1 1034.3,210.3 1035.3,206.5 1036.3,203.0 1037.4,199.5 1038.4,196.2 1039.4,193.0 1040.4,190.0 1041.5,187.1 1042.5,184.3 1043.5,181.7 1044.6,179.2 1045.6,176.8 1046.6,174.6 1047.6,172.5 1048.7,170.5 1049.7,168.7 1050.7,167.0 1051.8,165.5 1052.8,164.1 1053.8,162.8 1054.8,161.6 1055.9,160.6 1056.9,159.7 1057.9,158.9 1058.9,158.3 1060.0,157.8 1061.0,157.4 1062.0,157.1 1063.1,157.0 1064.1,156.9 1065.1,157.0 1066.1,157.2 1067.2,157.6 1068.2,158.0 1069.2,158.5 1070.2,159.2 1071.3,159.9 1072.3,160.8 1073.3,161.8 1074.4,162.8 1075.4,164.0 1076.4,165.3 1077.4,166.6 1078.5,168.1 1079.5,169.6 1080.5,171.2 1081.5,173.0 1082.6,174.8 1083.6,176.7 1084.6,178.6 1085.7,180.7 1086.7,182.8 1087.7,185.0 1088.7,187.3 1089.8,189.6 1090.8,192.0 1091.8,194.5 1092.8,197.1 1093.9,199.7 1094.9,202.4 1095.9,205.1 1097.0,207.9 1098.0,210.7 1099.0,213.6 1100.0,216.5 1101.1,219.5 1102.1,222.6 1103.1,225.7 1104.2,228.8 1105.2,232.0 1106.2,235.2 1107.2,238.4 1108.3,241.7 1109.3,245.0 1110.3,248.4 1111.3,251.7 1112.4,255.2 1113.4,258.6 1114.4,262.1 1115.5,265.5 1116.5,269.0 1117.5,272.6 1118.5,276.1 1119.6,279.7 1120.6,283.3 1121.6,286.9 1122.6,290.5 1123.7,294.1 1124.7,297.7 1125.7,301.4 1126.8,305.0 1127.8,308.7 1128.8,312.3 1129.8,316.0 1130.9,319.7 1131.9,323.3 1132.9,327.0 1133.9,330.7 1135.0,334.3 1136.0,338.0 1137.0,341.7 1138.1,345.3 1139.1,349.0 1140.1,352.6 1141.1,356.2 1142.2,359.9 1143.2,363.5 1144.2,367.1 1145.3,370.7 1146.3,374.2 1147.3,377.8 1148.3,381.4 1149.4,384.9 1150.4,388.4 1151.4,391.9 1152.4,395.4 1153.5,398.9 1154.5,402.4 1155.5,405.8 1156.6,409.2 1157.6,412.6 1158.6,416.0 1159.6,419.4 1160.7,422.7 1161.7,426.0 1162.7,429.3 1163.7,432.6 1164.8,435.8 1165.8,439.0 1166.8,442.2 1167.9,445.4 1168.9,448.6 1169.9,451.7 1170.9,454.8 1172.0,457.9 1173.0,460.9 1174.0,464.0 1175.0,467.0 1176.1,469.9 1177.1,472.9 1178.1,475.8 1179.2,478.7 1180.2,481.6 1181.2,484.4 1182.2,487.2 1183.3,490.0 1184.3,492.8 1185.3,495.5 1186.4,498.2 1187.4,500.9 1188.4,503.5 1189.4,506.2 1190.5,508.8 1191.5,511.3 1192.5,513.9 1193.5,516.4 1194.6,518.9 1195.6,521.3 1196.6,523.8 1197.7,526.2 1198.7,528.5 1199.7,530.9 1200.7,533.2 1201.8,535.5 1202.8,537.8 1203.8,540.0 1204.8,542.2 1205.9,544.4 1206.9,546.5 1207.9,548.7 1209.0,550.8 1210.0,552.9 1211.0,554.9 1212.0,556.9 1213.1,558.9 1214.1,560.9 1215.1,562.9 1216.1,564.8 1217.2,566.7 1218.2,568.5 1219.2,570.4 1220.3,572.2 1221.3,574.0 1222.3,575.8 1223.3,577.5 1224.4,579.3 1225.4,581.0 1226.4,582.6 1227.4,584.3 1228.5,585.9 1229.5,587.5 1230.5,589.1 1231.6,590.7 1232.6,592.2 1233.6,593.7 1234.6,595.2 1235.7,596.7 1236.7,598.1 1237.7,599.6 1238.8,601.0 1239.8,602.4 1240.8,603.7 1241.8,605.1 1242.9,606.4 1243.9,607.7 1244.9,609.0 1245.9,610.2 1247.0,611.5 1248.0,612.7 1249.0,613.9 1250.1,615.1 1251.1,616.3 1252.1,617.4 1253.1,618.6 1254.2,619.7 1255.2,620.8 1256.2,621.9 1257.2,622.9 1258.3,624.0 1259.3,625.0 1260.3,626.0 1261.4,627.0 1262.4,628.0 1263.4,628.9 1264.4,629.9 1265.5,630.8 1266.5,631.7 1267.5,632.6 1268.5,633.5 1269.6,634.4 1270.6,635.2 1271.6,636.1 1272.7,636.9 1273.7,637.7 1274.7,638.5 1275.7,639.3 1276.8,640.1 1277.8,640.8 1278.8,641.6 1279.9,642.3 1280.9,643.0 1281.9,643.7 1282.9,644.4 1284.0,645.1 1285.0,645.8 1286.0,646.4 1287.0,647.1 1288.1,647.7 1289.1,648.3 1290.1,649.0 1291.2,649.6 1292.2,650.1 1293.2,650.7 1294.2,651.3 1295.3,651.9 1296.3,652.4 1297.3,652.9 1298.3,653.5 1299.4,654.0 1300.4,654.5 1301.4,655.0 1302.5,655.5 1303.5,656.0 1304.5,656.5 1305.5,656.9 1306.6,657.4 1307.6,657.8 1308.6,658.3 1309.6,658.7 1310.7,659.1 1311.7,659.5 1312.7,659.9 1313.8,660.3 1314.8,660.7 1315.8,661.1 1316.8,661.5 1317.9,661.9 1318.9,662.2 1319.9,662.6 1320.9,662.9 1322.0,663.3 1323.0,663.6 1324.0,663.9 1325.1,664.3 1326.1,664.6 1327.1,664.9 1328.1,665.2 1329.2,665.5 1330.2,665.8 1331.2,666.1 1332.3,666.4 1333.3,666.6 1334.3,666.9 1335.3,667.2 1336.4,667.4 1337.4,667.7 1338.4,667.9 1339.4,668.2 1340.5,668.4 1341.5,668.7 1342.5,668.9 1343.6,669.1 1344.6,669.3 1345.6,669.5 1346.6,669.8 1347.7,670.0 1348.7,670.2 1349.7,670.4 1350.7,670.6 1351.8,670.8 1352.8,670.9 1353.8,671.1 1354.9,671.3 1355.9,671.5 1356.9,671.7 1357.9,671.8 1359.0,672.0 1360.0,672.2 1361.0,672.3 1362.0,672.5 1363.1,672.6 1364.1,672.8 1365.1,672.9 1366.2,673.1 1367.2,673.2 1368.2,673.3 1369.2,673.5 1370.3,673.6 1371.3,673.7 1372.3,673.9 1373.4,674.0 1374.4,674.1 1375.4,674.2 1376.4,674.4 1377.5,674.5 1378.5,674.6 1379.5,674.7 1380.5,674.8 1381.6,674.9 1382.6,675.0 1383.6,675.1 1384.7,675.2 1385.7,675.3 1386.7,675.4 1387.7,675.5 1388.8,675.6 1389.8,675.7 1390.8,675.7 1391.8,675.8 1392.9,675.9 1393.9,676.0 1394.9,676.1 1396.0,676.1 1397.0,676.2 1398.0,676.3 1399.0,676.4 1400.1,676.4 1401.1,676.5 1402.1,676.6 1403.1,676.6 1404.2,676.7 1405.2,676.8 1406.2,676.8 1407.3,676.9 1408.3,677.0 1409.3,677.0 1410.3,677.1 1411.4,677.1 1412.4,677.2 1413.4,677.2 1414.5,677.3 1415.5,677.3 1416.5,677.4 1417.5,677.4 1418.6,677.5 1419.6,677.5 1420.6,677.6 1421.6,677.6 1422.7,677.7 1423.7,677.7 1424.7,677.7 1425.8,677.8 1426.8,677.8 1427.8,677.9 1428.8,677.9 1429.9,677.9 1430.9,678.0 1431.9,678.0 1432.9,678.0 1434.0,678.1 1435.0,678.1 1436.0,678.1 1437.1,678.2 1438.1,678.2 1439.1,678.2 1440.1,678.3 1441.2,678.3 1442.2,678.3 1443.2,678.3 1444.2,678.4 1445.3,678.4 1446.3,678.4 1447.3,678.5 1448.4,678.5 1449.4,678.5 1450.4,678.5 1451.4,678.5 1452.5,678.6 1453.5,678.6 1454.5,678.6 1455.5,678.6 1456.6,678.7 1457.6,678.7 1458.6,678.7 1459.7,678.7 1460.7,678.7 1461.7,678.8 1462.7,678.8 1463.8,678.8 1464.8,678.8 1465.8,678.8 1466.9,678.8 1467.9,678.9 1468.9,678.9 1469.9,678.9 1471.0,678.9 1472.0,678.9 1473.0,678.9 1474.0,678.9 1475.1,679.0 1476.1,679.0 1477.1,679.0 1478.2,679.0 1479.2,679.0 1480.2,679.0 1481.2,679.0 1482.3,679.0 1483.3,679.0 1484.3,679.1 1485.3,679.1 1486.4,679.1 1487.4,679.1 1488.4,679.1 1489.5,679.1 1490.5,679.1 1491.5,679.1 1492.5,679.1 1493.6,679.1 1494.6,679.2 1495.6,679.2 1496.6,679.2 1497.7,679.2 1498.7,679.2 1499.7,679.2 1500.8,679.2 1501.8,679.2 1502.8,679.2 1503.8,679.2 1504.9,679.2 1505.9,679.2 1506.9,679.2 1508.0,679.3 1509.0,679.3 1510.0,679.3 1511.0,679.3 1512.1,679.3 1513.1,679.3 1514.1,679.3 1515.1,679.3 1516.2,679.3 1517.2,679.3 1518.2,679.3 1519.3,679.3 1520.3,679.3 1521.3,679.3 1522.3,679.3 1523.4,679.3 1524.4,679.3 1525.4,679.3 1526.4,679.3 1527.5,679.3 1528.5,679.3" fill="none" stroke="#e20a0c" stroke-width="4.5" stroke-linejoin="round"/>
</g>
<g font-size="29.5px" fill="#000" stroke="#000" stroke-width="0.4">
<text x="912.0" y="720.5" text-anchor="middle">0</text>
<text x="1117.2" y="720.5" text-anchor="middle">5</text>
<text x="1322.3" y="720.5" text-anchor="middle">10</text>
<text x="1527.5" y="720.5" text-anchor="middle">15</text>
<text x="902.8" y="691.3" text-anchor="end">0</text>
<text x="902.6" y="470.3" text-anchor="end">500</text>
<text x="902.8" y="249.2" text-anchor="end">1,000</text>
<text x="903.2" y="29.0" text-anchor="end">1,500</text>
<text x="1225.5" y="764.8" text-anchor="middle" font-size="29.2px">Laser power (MW)</text>
<text transform="translate(817.8,353.6) rotate(-90)" text-anchor="middle" font-size="29px">Frequency</text>
</g>
<rect x="1186" y="28.2" width="331.5" height="79" fill="#fff" stroke="#000" stroke-width="1.6"/>
<rect x="1192.3" y="34.2" width="34.6" height="29.4" fill="#92d8f5" stroke="#3d6b80" stroke-width="1"/>
<line x1="1192.3" y1="86.4" x2="1226.8" y2="86.4" stroke="#e20a0c" stroke-width="4.6"/>
<g font-size="29.1px" fill="#000" stroke="#000" stroke-width="0.4"><text x="1230" y="60.6">Measurement</text><text x="1230" y="97.9">Gamma distribution fit</text></g>
</svg>
</body></html>
